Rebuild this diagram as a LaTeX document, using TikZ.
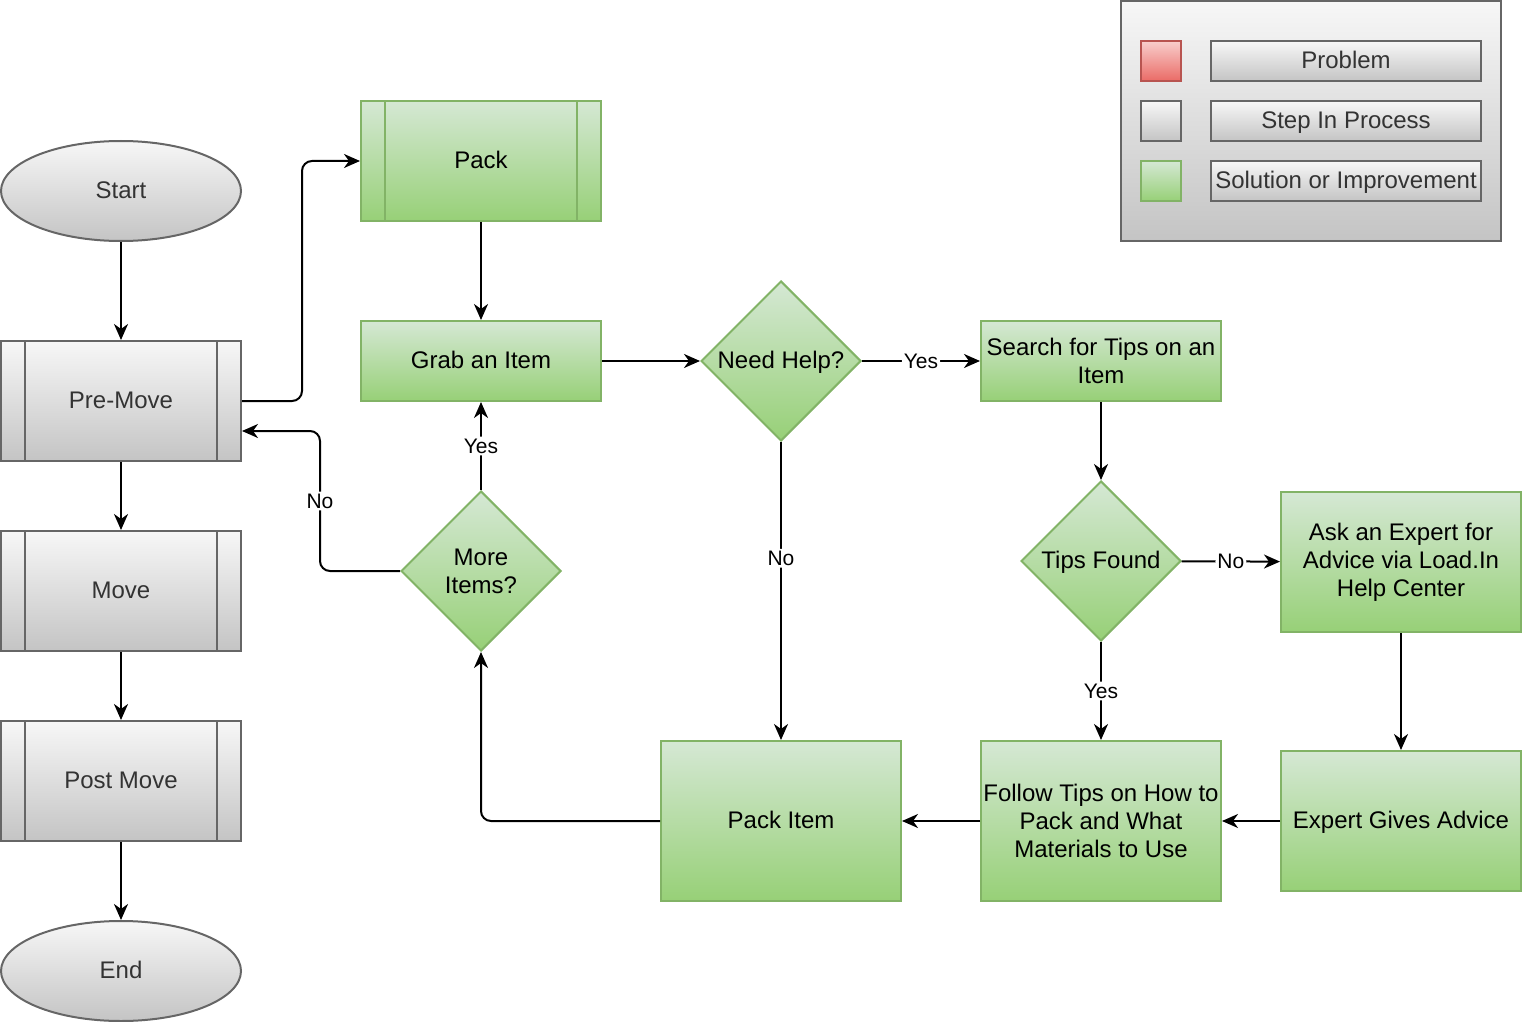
\documentclass[tikz,border=0pt]{standalone}
\usepackage{fontspec}
\setmainfont{Liberation Sans}
\usetikzlibrary{shapes.geometric,arrows.meta}
\definecolor{grayfill}{HTML}{F7F7F7}
\definecolor{graygrad}{HTML}{C4C4C4}
\definecolor{graystroke}{HTML}{666666}
\definecolor{graytext}{HTML}{333333}
\definecolor{greenfill}{HTML}{D5E8D4}
\definecolor{greengrad}{HTML}{97D077}
\definecolor{greenstroke}{HTML}{82B366}
\definecolor{redfill}{HTML}{F8CECC}
\definecolor{redgrad}{HTML}{EA6B66}
\definecolor{redstroke}{HTML}{B85450}
\begin{document}
\begin{tikzpicture}
[x=0.5pt,y=-0.5pt,
 every node/.style={font=\fontsize{12}{14}\selectfont},
 base/.style={draw,line width=1pt,inner sep=0pt,align=center,text height=0.72em,text depth=0pt},
 multi/.style={text height={},text depth={}},
 graybox/.style={base,draw=graystroke,top color=grayfill,bottom color=graygrad,text=graytext},
 greenbox/.style={base,draw=greenstroke,top color=greenfill,bottom color=greengrad},
 redbox/.style={base,draw=redstroke,top color=redfill,bottom color=redgrad},
 proc/.style={minimum width=120pt,minimum height=#1},
 subproc/.style={path picture={
   \draw[line width=1pt,#1]
     ([xshift=12pt]path picture bounding box.north west) -- ([xshift=12pt]path picture bounding box.south west)
     ([xshift=-12pt]path picture bounding box.north east) -- ([xshift=-12pt]path picture bounding box.south east);}},
 terminal/.style={graybox,ellipse,minimum width=120pt,minimum height=50pt},
 decision/.style={greenbox,diamond,minimum width=80pt,minimum height=80pt},
 key/.style={minimum width=20pt,minimum height=20pt},
 keytext/.style={graybox,minimum width=135pt,minimum height=20pt},
 flow/.style={-{Stealth[length=8pt,width=7pt,inset=2.5pt]},line width=1pt,rounded corners=5pt},
 lbl/.style={fill=white,inner sep=1pt,font=\fontsize{10.5}{12}\selectfont}]
\useasboundingbox (0,0) rectangle (1522,1022);
\node[graybox,minimum width=190pt,minimum height=120pt] (legend) at (1311,121) {};
\node[redbox,key] (probkey) at (1161,61) {};
\node[graybox,key] (stepkey) at (1161,121) {};
\node[greenbox,key] (solkey) at (1161,181) {};
\node[keytext] (problabel) at (1346,61) {Problem};
\node[keytext] (steplabel) at (1346,121) {Step In Process};
\node[keytext] (sollabel) at (1346,181) {Solution or Improvement};
\node[terminal] (start) at (121,191) {Start};
\node[graybox,proc=60pt,subproc=graystroke] (premove) at (121,401) {Pre-Move};
\node[graybox,proc=60pt,subproc=graystroke] (move) at (121,591) {Move};
\node[graybox,proc=60pt,subproc=graystroke] (postmove) at (121,781) {Post Move};
\node[terminal] (end) at (121,971) {End};
\node[greenbox,proc=60pt,subproc=greenstroke] (pack) at (481,161) {Pack};
\node[greenbox,proc=40pt] (grab) at (481,361) {Grab an Item};
\node[decision] (needhelp) at (781,361) {Need Help?};
\node[greenbox,proc=40pt,multi] (search) at (1101,361) {Search for Tips on an\\Item};
\node[decision] (tipsfound) at (1101,561) {Tips Found};
\node[greenbox,proc=70pt,multi] (askexpert) at (1401,562) {Ask an Expert for\\Advice via Load.In\\Help Center};
\node[greenbox,proc=70pt] (advice) at (1401,821) {Expert Gives Advice};
\node[greenbox,proc=80pt,multi] (follow) at (1101,821) {Follow Tips on How to\\Pack and What\\Materials to Use};
\node[greenbox,proc=80pt] (packitem) at (781,821) {Pack Item};
\node[decision,multi] (moreitems) at (481,571) {More\\Items?};
\draw[flow] (start) -- (premove);
\draw[flow] (premove) -- (move);
\draw[flow] (move) -- (postmove);
\draw[flow] (postmove) -- (end);
\draw[flow] (premove.east) -- ++(60,0) |- (pack.west);
\draw[flow] (pack) -- (grab);
\draw[flow] (grab) -- (needhelp);
\draw[flow] (needhelp) -- node[lbl] {Yes} (search);
\draw[flow] (needhelp) -- node[lbl,pos=0.39] {No} (packitem);
\draw[flow] (search) -- (tipsfound);
\draw[flow] (tipsfound) -- node[lbl] {No} (askexpert);
\draw[flow] (tipsfound) -- node[lbl] {Yes} (follow);
\draw[flow] (askexpert) -- (advice);
\draw[flow] (advice) -- (follow);
\draw[flow] (follow) -- (packitem);
\draw[flow] (packitem.west) -| (moreitems.south);
\draw[flow] (moreitems) -- node[lbl] {Yes} (grab);
\draw[flow] (moreitems.west) -- ++(-80,0) |- node[lbl,pos=0.25] {No} ([yshift=-15pt]premove.east);
\end{tikzpicture}
\end{document}
